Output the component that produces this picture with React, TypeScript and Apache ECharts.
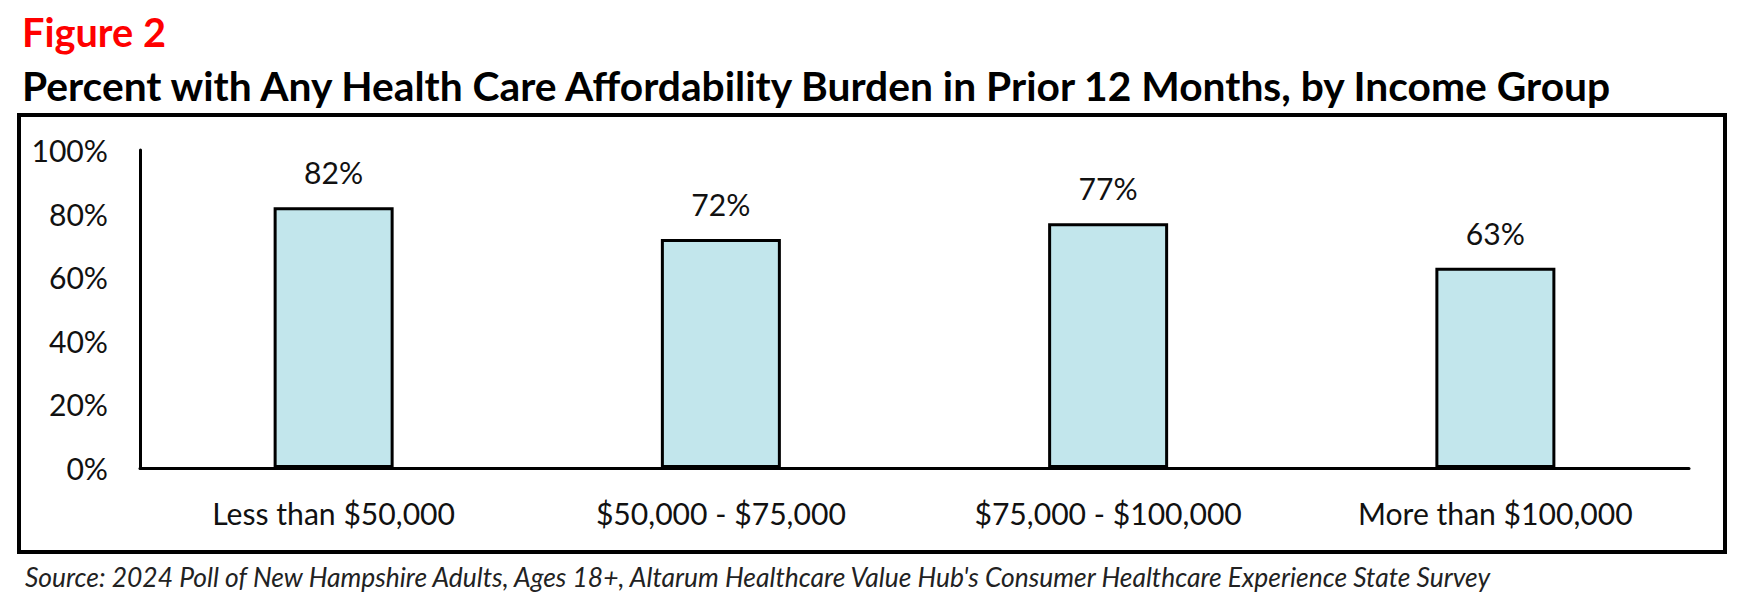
import React, { useEffect, useRef } from "react";
import * as echarts from "echarts";

const categories = [
  "Less than $50,000",
  "$50,000 - $75,000",
  "$75,000 - $100,000",
  "More than $100,000",
];
const values = [82, 72, 77, 63];

const figureLabel = "Figure 2";
const titleText =
  "Percent with Any Health Care Affordability Burden in Prior 12 Months, by Income Group";
const sourceText =
  "Source: 2024 Poll of New Hampshire Adults, Ages 18+, Altarum Healthcare Value Hub's Consumer Healthcare Experience State Survey";

const FAMILY = "Lato, 'Noto Sans', sans-serif";

function fitSize(text: string, weight: string, style: string, target: number): number {
  const ctx = document.createElement("canvas").getContext("2d");
  if (!ctx) return 30;
  const base = 40;
  ctx.font = `${style} ${weight} ${base}px ${FAMILY}`;
  const w = ctx.measureText(text).width;
  return w > 0 ? (base * target) / w : 30;
}

export default function App() {
  const ref = useRef<HTMLDivElement>(null);
  useEffect(() => {
    if (!ref.current) return;
    const chart = echarts.init(ref.current, null, { renderer: "svg" });
    const figSize = fitSize(figureLabel, "bold", "normal", 144);
    const titleSize = fitSize(titleText, "bold", "normal", 1596);
    const srcSize = fitSize(sourceText, "normal", "italic", 1470);
    const labelSize = fitSize(categories[0], "normal", "normal", 243);
    chart.setOption({
      animation: false,
      backgroundColor: "#ffffff",
      grid: { left: 140, right: 54, top: 150, bottom: 141 },
      xAxis: {
        type: "category",
        data: categories,
        axisLine: { show: true, lineStyle: { color: "#000", width: 3 } },
        axisTick: { show: false },
        axisLabel: {
          color: "#111",
          fontFamily: FAMILY,
          fontSize: labelSize,
          margin: 30,
        },
      },
      yAxis: {
        type: "value",
        min: 0,
        max: 100,
        interval: 20,
        axisLine: { show: true, lineStyle: { color: "#000", width: 3 } },
        axisTick: { show: false },
        splitLine: { show: false },
        axisLabel: {
          formatter: "{value}%",
          color: "#111",
          fontFamily: FAMILY,
          fontSize: labelSize,
          margin: 32,
        },
      },
      series: [
        {
          type: "bar",
          data: values,
          barWidth: 120,
          itemStyle: { color: "#C2E6EC", borderColor: "#000", borderWidth: 3 },
          label: {
            show: true,
            position: "top",
            distance: 20,
            formatter: "{c}%",
            color: "#111",
            fontFamily: FAMILY,
            fontSize: labelSize,
          },
        },
      ],
      graphic: [
        {
          type: "rect",
          shape: { x: 19, y: 115, width: 1706, height: 437 },
          style: { fill: "none", stroke: "#000", lineWidth: 4 },
          silent: true,
        },
        {
          type: "text",
          x: 22,
          y: 31.5,
          style: {
            text: figureLabel,
            fill: "#FF0000",
            fontFamily: FAMILY,
            fontWeight: "bold",
            fontSize: figSize,
            verticalAlign: "middle",
            align: "left",
          },
        },
        {
          type: "text",
          x: 22,
          y: 85.5,
          style: {
            text: titleText,
            fill: "#000",
            fontFamily: FAMILY,
            fontWeight: "bold",
            fontSize: titleSize,
            verticalAlign: "middle",
            align: "left",
          },
        },
        {
          type: "text",
          x: 25,
          y: 577,
          style: {
            text: sourceText,
            fill: "#222",
            fontFamily: FAMILY,
            fontStyle: "italic",
            fontSize: srcSize,
            verticalAlign: "middle",
            align: "left",
          },
        },
      ],
    });
    return () => chart.dispose();
  }, []);
  return (
    <div
      ref={ref}
      style={{ position: "absolute", left: 0, top: 0, width: 1743, height: 609 }}
    />
  );
}
